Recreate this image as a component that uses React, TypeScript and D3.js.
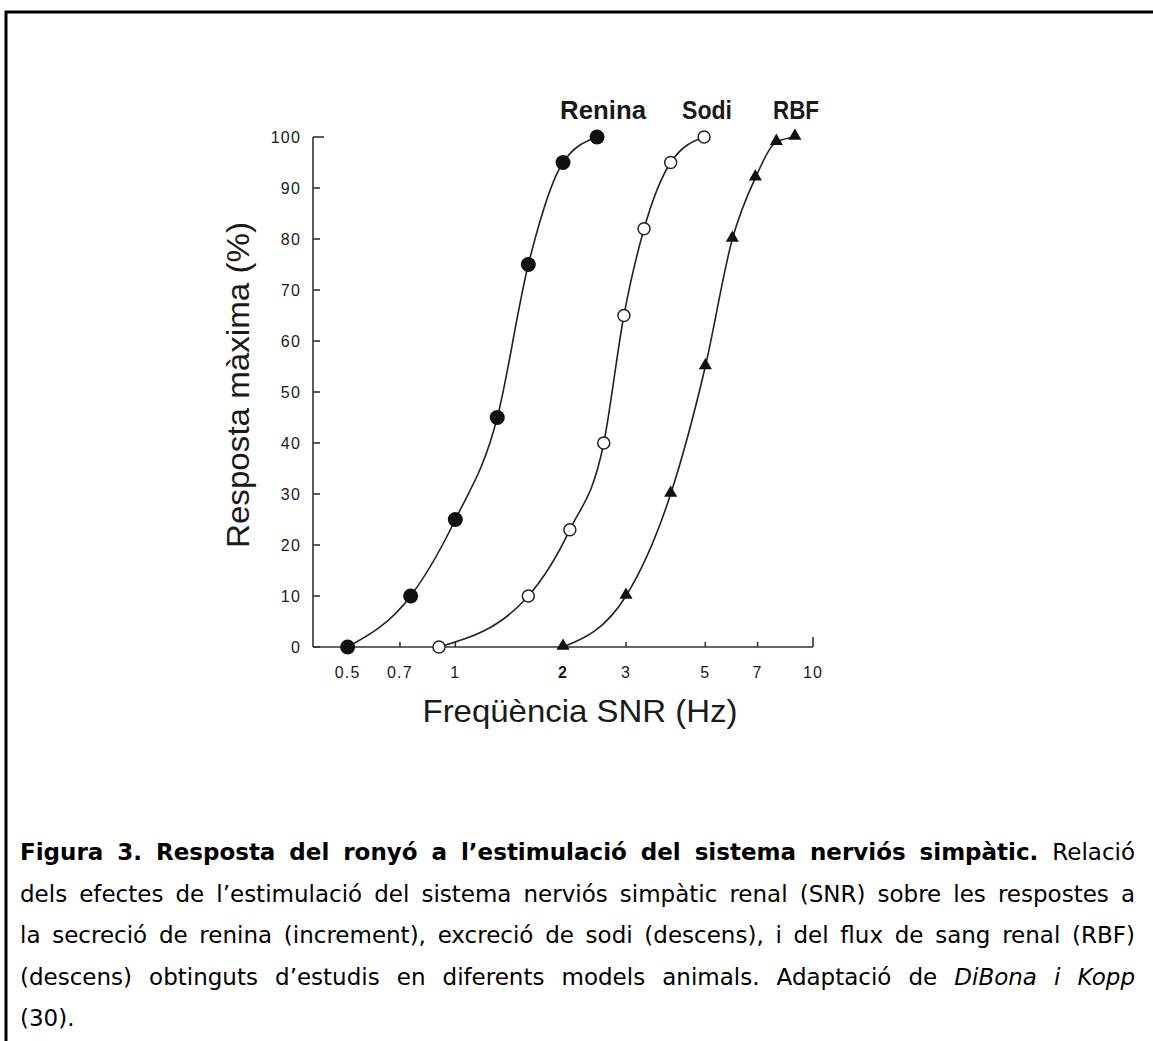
import React, { useEffect, useRef } from 'react';
import * as d3 from 'd3';

// values (frequency in Hz, response in % of max)
const reninaFreq = [0.5, 0.75, 1.0, 1.31, 1.6, 2.0, 2.49];
const reninaResp = [0, 10, 25, 45, 75, 95, 100];
const sodiFreq = [0.9, 1.6, 2.09, 2.6, 2.96, 3.37, 4.0, 4.96];
const sodiResp = [0, 10, 23, 40, 65, 82, 95, 100];
const rbfFreq = [2.0, 3.0, 4.0, 5.0, 5.95, 6.9, 7.9, 8.9];
const rbfResp = [0, 10, 30, 55, 80, 92, 99, 100];

const seriesNames = ['Renina', 'Sodi', 'RBF'];
const xTicks = [0.5, 0.7, 1, 2, 3, 5, 7, 10];
const xTickLabels = ['0.5', '0.7', '1', '2', '3', '5', '7', '10'];
const yTicks = [0, 10, 20, 30, 40, 50, 60, 70, 80, 90, 100];

const captionLines = [
  [
    { t: 'Figura 3. Resposta del ronyó a l’estimulació del sistema nerviós simpàtic.', s: 'b' },
    { t: 'Relació', s: 'n' },
  ],
  [{ t: 'dels efectes de l’estimulació del sistema nerviós simpàtic renal (SNR) sobre les respostes a', s: 'n' }],
  [{ t: 'la secreció de renina (increment), excreció de sodi (descens), i del flux de sang renal (RBF)', s: 'n' }],
  [
    { t: '(descens) obtinguts d’estudis en diferents models animals. Adaptació de', s: 'n' },
    { t: 'DiBona i Kopp', s: 'i' },
  ],
  [{ t: '(30).', s: 'n' }],
];

const W = 1153;
const H = 1041;

const App = () => {
  const svgRef = useRef(null);

  useEffect(() => {
    const svg = d3.select(svgRef.current);
    svg.selectAll('*').remove();

    const ink = '#1a1a1a';
    const chartFont = '"Liberation Sans", Arial, sans-serif';

    // frame (top and left edges only, like the scanned page)
    svg.append('path')
      .attr('d', `M6,${H} L6,12 L${W},12`)
      .attr('fill', 'none')
      .attr('stroke', '#000')
      .attr('stroke-width', 3);

    // scales
    const x = d3.scaleLog().domain([0.4, 10]).range([313, 813]);
    const y = d3.scaleLinear().domain([0, 100]).range([647, 137]);

    const g = svg.append('g').attr('font-family', chartFont).attr('fill', ink);

    // axes lines
    g.append('line')
      .attr('x1', 313).attr('x2', 313)
      .attr('y1', y(0)).attr('y2', y(100))
      .attr('stroke', '#333').attr('stroke-width', 1.6);
    g.append('line')
      .attr('x1', 313).attr('x2', x(10))
      .attr('y1', y(0)).attr('y2', y(0))
      .attr('stroke', '#333').attr('stroke-width', 1.6);

    // y ticks (inward)
    g.selectAll('.ytick')
      .data(yTicks)
      .enter()
      .append('line')
      .attr('x1', 313).attr('x2', (d) => (d === 100 ? 324 : 320))
      .attr('y1', (d) => y(d)).attr('y2', (d) => y(d))
      .attr('stroke', '#333').attr('stroke-width', 1.6);

    g.selectAll('.ylab')
      .data(yTicks)
      .enter()
      .append('text')
      .attr('x', 301)
      .attr('y', (d) => y(d) + 6)
      .attr('text-anchor', 'end')
      .style('font-size', '16px')
      .style('letter-spacing', '1.2px')
      .text((d) => d);

    // x ticks (inward)
    g.selectAll('.xtick')
      .data(xTicks)
      .enter()
      .append('line')
      .attr('x1', (d) => x(d)).attr('x2', (d) => x(d))
      .attr('y1', y(0)).attr('y2', (d) => (d === 10 ? y(0) - 10 : y(0) - 5))
      .attr('stroke', '#333').attr('stroke-width', 1.6);

    g.selectAll('.xlab')
      .data(xTicks)
      .enter()
      .append('text')
      .attr('x', (d) => x(d))
      .attr('y', 678)
      .attr('text-anchor', 'middle')
      .style('font-size', '16px')
      .style('letter-spacing', '1.2px')
      .style('font-weight', (d) => (d === 2 ? 'bold' : 'normal'))
      .text((d, i) => xTickLabels[i]);

    // axis titles
    g.append('text')
      .attr('x', 580)
      .attr('y', 722)
      .attr('text-anchor', 'middle')
      .attr('textLength', 315)
      .attr('lengthAdjust', 'spacingAndGlyphs')
      .style('font-size', '32px')
      .text('Freqüència SNR (Hz)');

    g.append('text')
      .attr('transform', 'translate(249,385) rotate(-90)')
      .attr('text-anchor', 'middle')
      .attr('textLength', 326)
      .attr('lengthAdjust', 'spacingAndGlyphs')
      .style('font-size', '31px')
      .text('Resposta màxima (%)');

    // curves
    const series = [
      { name: seriesNames[0], f: reninaFreq, r: reninaResp },
      { name: seriesNames[1], f: sodiFreq, r: sodiResp },
      { name: seriesNames[2], f: rbfFreq, r: rbfResp },
    ];

    const line = d3.line()
      .x((d) => x(d[0]))
      .y((d) => y(d[1]))
      .curve(d3.curveMonotoneX);

    series.forEach((s) => {
      const pts = s.f.map((f, i) => [f, s.r[i]]);
      g.append('path')
        .datum(pts)
        .attr('fill', 'none')
        .attr('stroke', '#222')
        .attr('stroke-width', 1.6)
        .attr('d', line);
    });

    // markers
    const renPts = reninaFreq.map((f, i) => [f, reninaResp[i]]);
    g.selectAll('.ren')
      .data(renPts)
      .enter()
      .append('circle')
      .attr('cx', (d) => x(d[0]))
      .attr('cy', (d) => y(d[1]))
      .attr('r', 7.5)
      .attr('fill', '#111');

    const sodPts = sodiFreq.map((f, i) => [f, sodiResp[i]]);
    g.selectAll('.sod')
      .data(sodPts)
      .enter()
      .append('circle')
      .attr('cx', (d) => x(d[0]))
      .attr('cy', (d) => y(d[1]))
      .attr('r', 6)
      .attr('fill', '#fff')
      .attr('stroke', '#222')
      .attr('stroke-width', 1.5);

    const rbfPts = rbfFreq.map((f, i) => [f, rbfResp[i]]);
    g.selectAll('.rbf')
      .data(rbfPts)
      .enter()
      .append('path')
      .attr('d', d3.symbol().type(d3.symbolTriangle).size(75))
      .attr('transform', (d) => `translate(${x(d[0])},${y(d[1]) - 1})`)
      .attr('fill', '#111');

    // series labels above the curves
    const labelPos = [
      { x: 603, w: 86 },
      { x: 707, w: 50 },
      { x: 796, w: 46 },
    ];
    g.selectAll('.slab')
      .data(seriesNames)
      .enter()
      .append('text')
      .attr('x', (d, i) => labelPos[i].x)
      .attr('y', 119)
      .attr('text-anchor', 'middle')
      .attr('textLength', (d, i) => labelPos[i].w)
      .attr('lengthAdjust', 'spacingAndGlyphs')
      .style('font-family', '"Liberation Sans Narrow", "Liberation Sans", Arial, sans-serif')
      .style('font-size', '25px')
      .style('font-weight', 'bold')
      .text((d) => d);

    // caption, justified by spreading words
    const cap = svg.append('g')
      .attr('font-family', '"DejaVu Sans", Verdana, sans-serif')
      .attr('fill', '#000')
      .style('font-size', '23px');

    const left = 20;
    const right = 1135;
    const baseY = 860;
    const lead = 41.5;

    captionLines.forEach((segs, li) => {
      const words = [];
      segs.forEach((seg) => {
        seg.t.split(' ').forEach((w) => words.push({ w, s: seg.s }));
      });
      const nodes = words.map((wd) => {
        const t = cap.append('text')
          .attr('y', baseY + li * lead)
          .style('font-weight', wd.s === 'b' ? 'bold' : 'normal')
          .style('font-style', wd.s === 'i' ? 'italic' : 'normal')
          .text(wd.w);
        return { t, len: t.node().getComputedTextLength() };
      });
      const total = d3.sum(nodes, (n) => n.len);
      const justify = li < captionLines.length - 1;
      const gap = justify && nodes.length > 1 ? (right - left - total) / (nodes.length - 1) : 7;
      let cx = left;
      nodes.forEach((n) => {
        n.t.attr('x', cx);
        cx += n.len + gap;
      });
    });
  }, []);

  return (
    <div style={{ position: 'absolute', left: 0, top: 0, width: W, height: H, background: '#fff' }}>
      <svg ref={svgRef} width={W} height={H}></svg>
    </div>
  );
};

export default App;
